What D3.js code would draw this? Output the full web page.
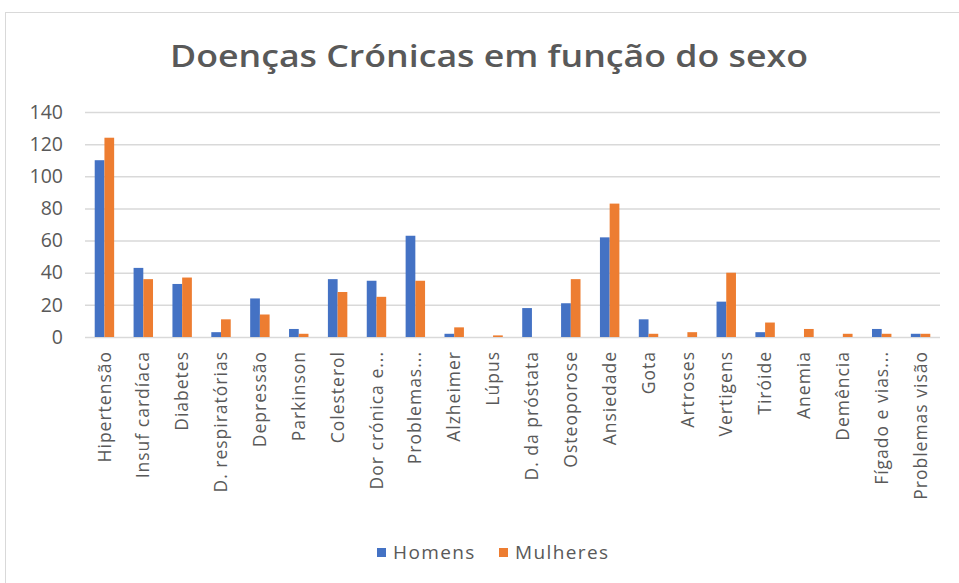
<!DOCTYPE html>
<meta charset="utf-8">
<style>
body { margin: 0; background: #fff; }
text { font-family: "Open Sans", sans-serif; fill: #595959; }
</style>
<svg width="959" height="583"></svg>
<script src="https://cdn.jsdelivr.net/npm/d3@7"></script>
<script>
// categories and values
var categories = ["Hipertensão", "Insuf cardíaca", "Diabetes", "D. respiratórias", "Depressão",
  "Parkinson", "Colesterol", "Dor crónica e...", "Problemas...", "Alzheimer", "Lúpus",
  "D. da próstata", "Osteoporose", "Ansiedade", "Gota", "Artroses", "Vertigens", "Tiróide",
  "Anemia", "Demência", "Fígado e vias...", "Problemas visão"];
var homens   = [110, 43, 33, 3, 24, 5, 36, 35, 63, 2, 0, 18, 21, 62, 11, 0, 22, 3, 0, 0, 5, 2];
var mulheres = [124, 36, 37, 11, 14, 2, 28, 25, 35, 6, 1, 0, 36, 83, 2, 3, 40, 9, 5, 2, 2, 2];
var seriesNames = ["Homens", "Mulheres"];
var yTicks = [0, 20, 40, 60, 80, 100, 120, 140];

var svg = d3.select("svg"),
    margin = {top: 112, right: 19, bottom: 246, left: 85},
    width = 959 - margin.left - margin.right,
    height = 583 - margin.top - margin.bottom;

// chart frame
svg.append("rect")
    .attr("x", 5.5).attr("y", 12.5)
    .attr("width", 970).attr("height", 600)
    .attr("fill", "none").attr("stroke", "#d9d9d9");

var g = svg.append("g").attr("transform", "translate(" + margin.left + "," + margin.top + ")");

var x0 = d3.scaleBand().domain(categories).range([0, width]).paddingInner(0.5).paddingOuter(0.25),
    x1 = d3.scaleBand().domain(seriesNames).range([0, x0.bandwidth()]),
    y = d3.scaleLinear().domain([0, 140]).range([height, 0]),
    z = d3.scaleOrdinal().domain(seriesNames).range(["#4472C4", "#ED7D31"]);

//gridlines
g.append("g")
    .call(d3.axisLeft(y).tickValues(yTicks).tickSize(-width).tickFormat(""))
    .call(function(a) {
      a.select(".domain").remove();
      a.selectAll("line").attr("stroke", "#d9d9d9").attr("stroke-width", 1.5);
    });

//y tick labels
g.append("g")
    .call(d3.axisLeft(y).tickValues(yTicks).tickSize(0).tickPadding(22))
    .call(function(a) {
      a.select(".domain").remove();
      a.selectAll("text").style("font-size", "19.5px").attr("fill", "#595959");
    });

var rows = categories.map(function(c, i) {
  return {cat: c, values: [{key: "Homens", v: homens[i]}, {key: "Mulheres", v: mulheres[i]}]};
});

g.append("g").selectAll("g")
  .data(rows)
  .enter().append("g")
    .attr("transform", function(d) { return "translate(" + x0(d.cat) + ",0)"; })
  .selectAll("rect")
  .data(function(d) { return d.values.filter(function(e) { return e.v > 0; }); })
  .enter().append("rect")
    .attr("x", function(d) { return x1(d.key); })
    .attr("y", function(d) { return y(d.v); })
    .attr("width", x1.bandwidth())
    .attr("height", function(d) { return height - y(d.v); })
    .attr("fill", function(d) { return z(d.key); });

//x labels rotated
g.append("g")
    .attr("transform", "translate(0," + height + ")")
    .call(d3.axisBottom(x0).tickSize(0).tickPadding(0))
    .call(function(a) {
      a.select(".domain").remove();
      a.selectAll("text")
        .style("font-size", "17.5px")
        .style("letter-spacing", "1px")
        .attr("fill", "#595959")
        .attr("text-anchor", "end")
        .attr("dy", "0.35em")
        .attr("transform", "translate(0,14) rotate(-90)");
    });

//title
svg.append("text")
    .attr("x", 489)
    .attr("y", 67)
    .attr("text-anchor", "middle")
    .attr("textLength", 638)
    .attr("lengthAdjust", "spacingAndGlyphs")
    .style("font-size", "31px")
    .style("font-weight", "600")
    .text("Doenças Crónicas em função do sexo");

//legend
var legend = svg.append("g").selectAll("g")
  .data(seriesNames)
  .enter().append("g")
    .attr("transform", function(d, i) { return "translate(" + (377 + i * 122) + ",548)"; });

legend.append("rect")
    .attr("width", 9).attr("height", 9)
    .attr("fill", function(d) { return z(d); });

legend.append("text")
    .attr("x", 16).attr("y", 11)
    .style("font-size", "19px")
    .style("letter-spacing", "1.4px")
    .text(function(d) { return d; });
</script>
